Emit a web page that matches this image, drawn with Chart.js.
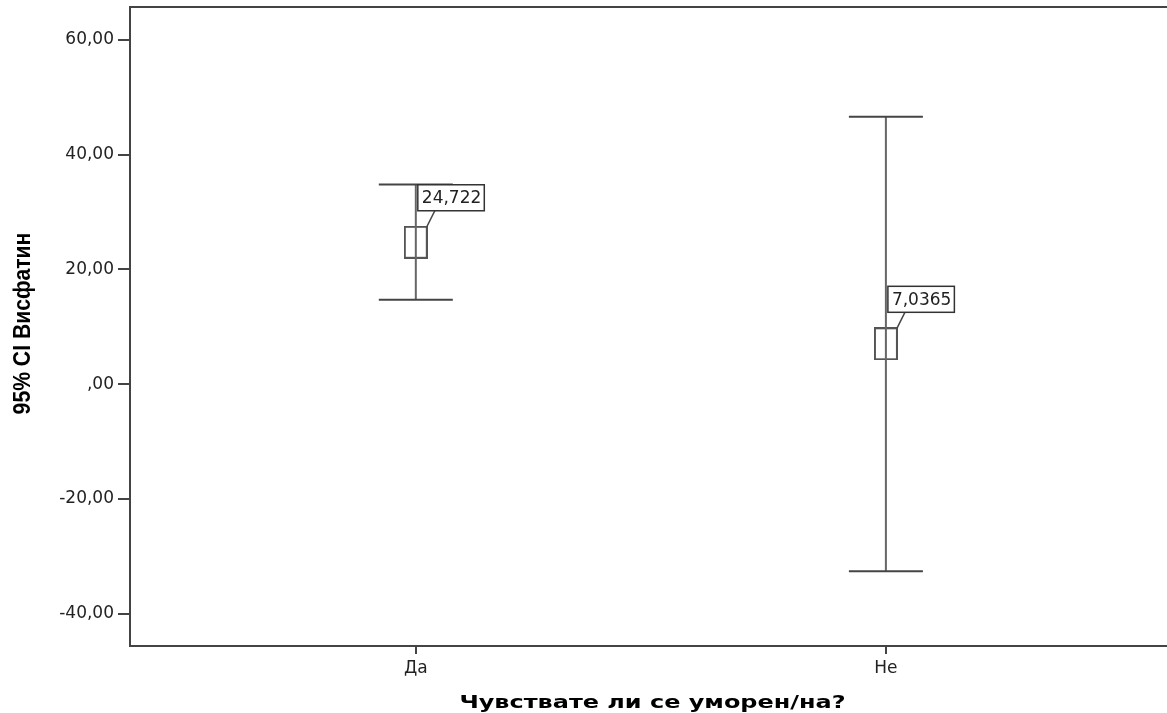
<!DOCTYPE html>
<html>
<head>
<meta charset="utf-8">
<script src="https://cdn.jsdelivr.net/npm/chart.js@4.4.1/dist/chart.umd.min.js"></script>
<style>
  html, body { margin: 0; padding: 0; background: #fff; }
  #wrap { width: 1167px; height: 713px; }
</style>
</head>
<body>
<div id="wrap"><canvas id="grafico"></canvas></div>
<script>
// datos del gráfico (95% IC por grupo)
const categorias = ['Да', 'Не'];
const medias = [24.722, 7.0365];
const limiteInferior = [14.7, -32.6];
const limiteSuperior = [34.8, 46.6];
const etiquetasMedia = ['24,722', '7,0365'];
const ticksY = [-40, -20, 0, 20, 40, 60];
const etiquetasY = ['-40,00', '-20,00', ',00', '20,00', '40,00', '60,00'];

const tituloX = 'Чувствате ли се уморен/на?';
const tituloY = '95% CI Висфатин';

// marcador rectangular de la media
function crearMarcador() {
    const c = document.createElement('canvas');
    c.width = 24;
    c.height = 33;
    const g = c.getContext('2d');
    g.strokeStyle = '#555';
    g.lineWidth = 2;
    g.strokeRect(1, 1, 22, 31);
    return c;
}
const marcador = crearMarcador();

const datasets = categorias.map((cat, i) => ({
    type: 'scatter',
    label: cat,
    data: [
        { x: i + 1, y: limiteInferior[i] },
        { x: i + 1, y: limiteSuperior[i] }
    ],
    showLine: true,
    borderColor: '#666',
    borderWidth: 2,
    pointStyle: 'line',
    pointRadius: 37,
    pointBorderColor: '#444',
    pointBorderWidth: 2,
    clip: false
}));

datasets.push({
    type: 'scatter',
    label: 'media',
    data: medias.map((m, i) => ({ x: i + 1, y: m })),
    pointStyle: marcador,
    pointRadius: 12
});

const pluginMarco = {
    id: 'marco',
    beforeDatasetsDraw(chart) {
        const { ctx, chartArea: a } = chart;
        ctx.save();
        ctx.strokeStyle = '#444';
        ctx.lineWidth = 2;
        ctx.beginPath();
        ctx.moveTo(a.right, a.top);
        ctx.lineTo(a.left, a.top);
        ctx.lineTo(a.left, a.bottom);
        ctx.lineTo(a.right, a.bottom);
        ctx.stroke();
        ctx.restore();
    },
    afterDatasetsDraw(chart) {
        const { ctx, scales } = chart;
        ctx.save();
        ctx.font = '17px "DejaVu Sans"';
        medias.forEach((m, i) => {
            const px = scales.x.getPixelForValue(i + 1);
            const py = scales.y.getPixelForValue(m);
            const arribaMarcador = py - 15.5;
            const derechaMarcador = px + 11;
            const texto = etiquetasMedia[i];
            const w = ctx.measureText(texto).width + 7;
            const h = 26;
            const izq = px + 2;
            const abajo = arribaMarcador - 16;
            // línea guía
            ctx.strokeStyle = '#444';
            ctx.lineWidth = 1.5;
            ctx.beginPath();
            ctx.moveTo(izq + 17, abajo);
            ctx.lineTo(derechaMarcador, arribaMarcador);
            ctx.stroke();
            // caja
            ctx.fillStyle = '#fff';
            ctx.fillRect(izq, abajo - h, w, h);
            ctx.strokeStyle = '#333';
            ctx.strokeRect(izq, abajo - h, w, h);
            ctx.fillStyle = '#222';
            ctx.textBaseline = 'middle';
            ctx.textAlign = 'left';
            ctx.fillText(texto, izq + 4, abajo - h / 2 + 1);
        });
        ctx.restore();
    },
    afterDraw(chart) {
        const { ctx, chartArea: a } = chart;
        ctx.save();
        ctx.fillStyle = '#000';
        ctx.textAlign = 'center';
        ctx.textBaseline = 'middle';
        // título eje X
        ctx.save();
        ctx.translate((a.left + a.right) / 2 + 4, 703);
        ctx.scale(1.33, 1);
        ctx.font = 'bold 18px "DejaVu Sans"';
        ctx.fillText(tituloX, 0, 0);
        ctx.restore();
        // título eje Y
        ctx.save();
        ctx.translate(24, (a.top + a.bottom) / 2 - 3);
        ctx.rotate(-Math.PI / 2);
        ctx.scale(0.92, 1);
        ctx.font = 'bold 23px "Liberation Sans"';
        ctx.fillText(tituloY, 0, 0);
        ctx.restore();
        ctx.restore();
    }
};

new Chart(document.getElementById('grafico').getContext('2d'), {
    type: 'scatter',
    data: { datasets },
    options: {
        responsive: true,
        maintainAspectRatio: false,
        animation: false,
        layout: { autoPadding: false, padding: { top: 7, right: 0, bottom: 0, left: 0 } },
        plugins: {
            legend: { display: false },
            tooltip: { enabled: false }
        },
        scales: {
            x: {
                type: 'linear',
                min: 0.392,
                max: 2.598,
                border: { display: false },
                grid: {
                    drawOnChartArea: false,
                    drawTicks: true,
                    tickLength: 8,
                    color: '#444',
                    lineWidth: 2
                },
                afterBuildTicks(scale) {
                    scale.ticks = categorias.map((c, i) => ({ value: i + 1 }));
                },
                afterFit(scale) {
                    scale.height = 67;
                    scale.paddingLeft = 0;
                    scale.paddingRight = 0;
                },
                ticks: {
                    color: '#222',
                    padding: 4,
                    font: { family: '"DejaVu Sans"', size: 17 },
                    maxRotation: 0,
                    callback: (v) => categorias[v - 1]
                }
            },
            y: {
                min: -45.6,
                max: 65.7,
                border: { display: false },
                grid: {
                    drawOnChartArea: false,
                    drawTicks: true,
                    tickLength: 12,
                    color: '#444',
                    lineWidth: 2
                },
                afterBuildTicks(scale) {
                    scale.ticks = ticksY.map(v => ({ value: v }));
                },
                afterFit(scale) {
                    scale.width = 130;
                    scale.paddingTop = 0;
                    scale.paddingBottom = 0;
                },
                ticks: {
                    color: '#222',
                    padding: 4,
                    font: { family: '"DejaVu Sans"', size: 17 },
                    callback: (v) => etiquetasY[ticksY.indexOf(v)]
                }
            }
        }
    },
    plugins: [pluginMarco]
});
</script>
</body>
</html>
